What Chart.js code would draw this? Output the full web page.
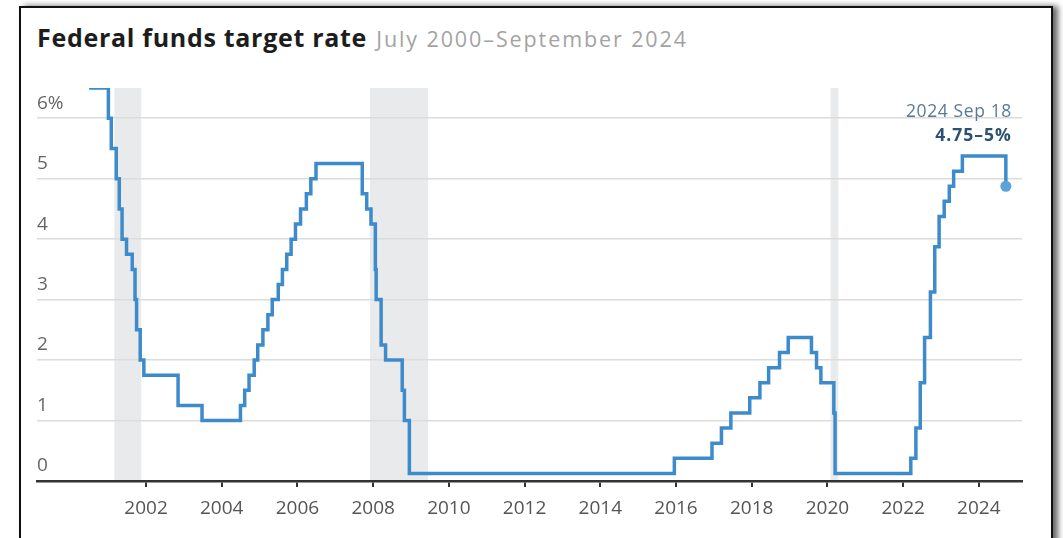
<!DOCTYPE html>
<html>
<head>
<meta charset="utf-8">
<script src="https://cdn.jsdelivr.net/npm/chart.js@4.4.1/dist/chart.umd.min.js"></script>
<style>
  html, body { margin: 0; padding: 0; background: #fff; width: 1063px; height: 538px; overflow: hidden; }
  #frame { position: absolute; left: 19px; top: 6px; width: 1030px; height: 600px;
           border: 2px solid #111; border-bottom: none; box-shadow: 5px 0 6px #666; background: #fff; }
  #title { position: absolute; left: 37px; top: 22px; white-space: nowrap; font-family: "Open Sans", sans-serif; line-height: 30px; }
  #title b { font-size: 25px; color: #1d1d1d; letter-spacing: 0.7px; }
  #title span { font-size: 21.5px; color: #a3a3a3; letter-spacing: 1.9px; margin-left: 5px; }
  #wrap { position: absolute; left: 0; top: 0; width: 1063px; height: 538px; }
</style>
</head>
<body>
<div id="frame"></div>
<div id="title"><b>Federal funds target rate</b> <span>July 2000–September 2024</span></div>
<div id="wrap"><canvas id="rateChart" width="1063" height="538"></canvas></div>
<script>
// rate changes (after Dec 2008 the middle of the target range)
const changeDates = [
  '2000-07-01', '2001-01-03', '2001-01-31', '2001-03-20', '2001-04-18', '2001-05-15',
  '2001-06-27', '2001-08-21', '2001-09-17', '2001-10-02', '2001-11-06', '2001-12-11',
  '2002-11-06', '2003-06-25', '2004-06-30', '2004-08-10', '2004-09-21', '2004-11-10',
  '2004-12-14', '2005-02-02', '2005-03-22', '2005-05-03', '2005-06-30', '2005-08-09',
  '2005-09-20', '2005-11-01', '2005-12-13', '2006-01-31', '2006-03-28', '2006-05-10',
  '2006-06-29', '2007-09-18', '2007-10-31', '2007-12-11', '2008-01-22', '2008-01-30',
  '2008-03-18', '2008-04-30', '2008-10-08', '2008-10-29', '2008-12-16', '2015-12-16',
  '2016-12-14', '2017-03-15', '2017-06-14', '2017-12-13', '2018-03-21', '2018-06-13',
  '2018-09-26', '2018-12-19', '2019-07-31', '2019-09-18', '2019-10-30', '2020-03-03',
  '2020-03-15', '2022-03-16', '2022-05-04', '2022-06-15', '2022-07-27', '2022-09-21',
  '2022-11-02', '2022-12-14', '2023-02-01', '2023-03-22', '2023-05-03', '2023-07-26',
  '2024-09-18'
];
const targetRates = [
  6.5, 6.0, 5.5, 5.0, 4.5, 4.0,
  3.75, 3.5, 3.0, 2.5, 2.0, 1.75,
  1.25, 1.0, 1.25, 1.5, 1.75, 2.0,
  2.25, 2.5, 2.75, 3.0, 3.25, 3.5,
  3.75, 4.0, 4.25, 4.5, 4.75, 5.0,
  5.25, 4.75, 4.5, 4.25, 3.5, 3.0,
  2.25, 2.0, 1.5, 1.0, 0.125, 0.375,
  0.625, 0.875, 1.125, 1.375, 1.625, 1.875,
  2.125, 2.375, 2.125, 1.875, 1.625, 1.125,
  0.125, 0.375, 0.875, 1.625, 2.375, 3.125,
  3.875, 4.375, 4.625, 4.875, 5.125, 5.375,
  4.875
];
const recessionStarts = ['2001-03-01', '2007-12-01', '2020-02-01'];
const recessionEnds = ['2001-11-15', '2009-06-15', '2020-04-15'];
const yearTicks = [2002, 2004, 2006, 2008, 2010, 2012, 2014, 2016, 2018, 2020, 2022, 2024];
const rateTicks = [0, 1, 2, 3, 4, 5, 6];
const lastLabel = '2024 Sep 18';
const lastValueLabel = '4.75–5%';

function toYear(s) {
  const d = new Date(s + 'T00:00:00Z');
  const y = d.getUTCFullYear();
  const start = Date.UTC(y, 0, 1), end = Date.UTC(y + 1, 0, 1);
  return y + (d.getTime() - start) / (end - start);
}

const points = changeDates.map((d, i) => ({ x: toYear(d), y: targetRates[i] }));
const lineColor = '#3d8bcb';
const font = '"Open Sans"';

const recessionShading = {
  id: 'recessionShading',
  beforeDraw(chart) {
    const { ctx, scales: { x, y } } = chart;
    ctx.save();
    ctx.fillStyle = '#e9eaeb';
    recessionStarts.forEach((s, i) => {
      const x0 = x.getPixelForValue(toYear(s));
      const x1 = x.getPixelForValue(toYear(recessionEnds[i]));
      const top = y.getPixelForValue(6.5);
      ctx.fillRect(x0, top, x1 - x0, y.getPixelForValue(0) - top);
    });
    ctx.restore();
  }
};

const endLabel = {
  id: 'endLabel',
  afterDatasetsDraw(chart) {
    const { ctx, scales: { x } } = chart;
    const last = points[points.length - 1];
    const px = x.getPixelForValue(last.x) + 6;
    ctx.save();
    ctx.textAlign = 'right';
    ctx.textBaseline = 'middle';
    ctx.letterSpacing = '0.6px';
    ctx.font = '17.5px ' + font;
    ctx.fillStyle = '#587a96';
    ctx.fillText(lastLabel, px, 112);
    ctx.letterSpacing = '1px';
    ctx.font = 'bold 17.5px ' + font;
    ctx.fillStyle = '#2b5273';
    ctx.fillText(lastValueLabel, px, 136);
    ctx.restore();
  }
};

new Chart(document.getElementById('rateChart').getContext('2d'), {
  type: 'line',
  data: {
    datasets: [{
      data: points,
      borderColor: lineColor,
      borderWidth: 3.5,
      stepped: 'before',
      fill: false,
      pointRadius: points.map((p, i) => i === points.length - 1 ? 5.5 : 0),
      pointBackgroundColor: '#5ea2da',
      pointBorderWidth: 0,
      borderCapStyle: 'butt'
    }]
  },
  options: {
    responsive: false,
    animation: false,
    layout: { padding: { left: 37, right: 41, top: 88, bottom: 0 } },
    plugins: { legend: { display: false }, tooltip: { enabled: false } },
    scales: {
      x: {
        type: 'linear',
        min: 1999.12,
        max: 2025.14,
        afterBuildTicks(s) { s.ticks = yearTicks.map(v => ({ value: v })); },
        afterFit(s) { s.height = 57; },
        grid: { drawOnChartArea: false, drawTicks: true, tickLength: 6, color: '#333', lineWidth: 2 },
        border: { display: true, color: '#333', width: 2.5 },
        ticks: { color: '#555', padding: 10, font: { family: font, size: 19 }, maxRotation: 0,
                 callback: v => String(v) }
      },
      y: {
        min: 0,
        max: 6.5,
        afterBuildTicks(s) { s.ticks = rateTicks.map(v => ({ value: v })); },
        afterFit(s) { s.width = 0; },
        grid: { drawTicks: false, color: '#dcdcdc', lineWidth: 1.5 },
        border: { display: false },
        ticks: { mirror: true, padding: 0, labelOffset: -15, color: '#666',
                 font: { family: font, size: 19 },
                 callback: v => v === 6 ? v + '%' : String(v) }
      }
    }
  },
  plugins: [recessionShading, endLabel]
});
</script>
</body>
</html>
